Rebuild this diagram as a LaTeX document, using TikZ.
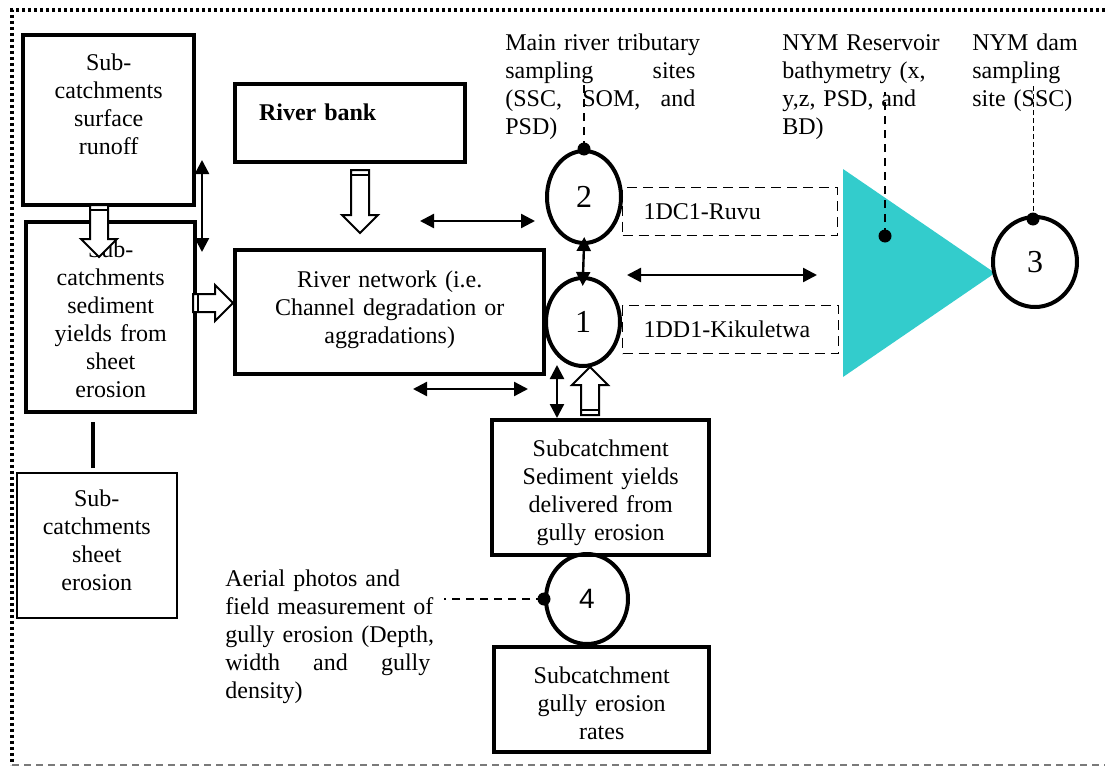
\documentclass[tikz,border=0pt]{standalone}
\usepackage{fontspec}
\setmainfont{Liberation Serif}
\newfontfamily\sitesans{Liberation Sans}
\usetikzlibrary{arrows.meta,positioning,calc,shapes.geometric}
\definecolor{resvcyan}{HTML}{33CCCC}
\definecolor{framegray}{HTML}{7A7A7A}

% block arrow: angle, x, y, length
\newcommand{\hollowarrow}[4]{%
  \begin{scope}[shift={(#2,#3)}, rotate=#1]
    \draw[hollow] (0,-9) -- ({#4-18},-9) -- ({#4-18},-18) -- (#4,0)
      -- ({#4-18},18) -- ({#4-18},9) -- (0,9) -- cycle;
    \draw[hollow] (5,-9) -- (5,9);
  \end{scope}}

\begin{document}
\begin{tikzpicture}[x=0.5pt, y=-0.5pt,
    every node/.style={font=\fontsize{12pt}{14pt}\selectfont},
    box/.style={draw, line width=2.2pt, inner sep=0pt, align=center,
                anchor=north west},
    thinbox/.style={box, line width=0.8pt},
    dbox/.style={draw, line width=0.6pt, dash pattern=on 5pt off 3pt,
                 inner ysep=0pt, inner xsep=10.5pt, minimum height=24pt,
                 align=left, anchor=north west},
    site/.style={ellipse, draw, line width=2pt, inner sep=0pt,
                 font=\fontsize{16pt}{18pt}\selectfont},
    dot/.style={circle, fill=black, inner sep=0pt, minimum size=6.5pt},
    lbl/.style={inner sep=0pt, align=left, anchor=base west},
    arr/.style={{Triangle[length=7pt,width=7pt]}-{Triangle[length=7pt,width=7pt]},
                line width=1.2pt},
    leader/.style={line width=0.7pt, dash pattern=on 4pt off 3pt},
    hollow/.style={draw, fill=white, line width=1pt}
]
  \useasboundingbox (0,0) rectangle (1105,766);

  % Outer frame
  \draw[line width=1.6pt, dash pattern=on 1.6pt off 1.4pt]
    (1105,10) -- (12,10) -- (12,765);
  \draw[framegray, line width=0.6pt, dash pattern=on 3.5pt off 2.5pt]
    (12,765) -- (1105,765);

  % Sub-catchment boxes
  \node[box, text width=85.5pt, text height=17.5pt, text depth=67.5pt]
    (runoff) at (21,33) {Sub-\\catchments\\surface\\runoff};
  \node[box, text width=84.5pt, text height=17.5pt, text depth=77.5pt]
    (sedyield) at (24,220) {Sub-\\catchments\\sediment\\yields from\\sheet\\erosion};
  \node[thinbox, text width=80pt, text height=17pt, text depth=55.5pt]
    (sheet) at (16,472) {Sub-\\catchments\\sheet\\erosion};
  \draw[line width=2pt] ([xshift=-2pt,yshift=2pt]sheet.north) coordinate (sl)
    -- ($(sl |- sedyield.south)+(0,8)$);

  % River bank and river network
  \node[box, align=left, inner xsep=12pt, text width=91pt, text height=18pt,
        text depth=21pt, line width=2pt, font=\fontsize{12pt}{14pt}\selectfont\bfseries]
    (rbank) at (233,82) {River bank};
  \node[box, text width=154.5pt, text height=18.5pt, text depth=43.5pt]
    (rnet) at (233,248) {River network (i.e.\\Channel degradation or\\aggradations)};

  % Gully erosion boxes
  \node[box, text width=108.5pt, text height=18pt, text depth=49.5pt]
    (gyield) at (490,418) {Subcatchment\\Sediment yields\\delivered from\\gully erosion};
  \node[box, text width=107.5pt, text height=18pt, text depth=34.5pt]
    (grates) at (492,645) {Subcatchment\\gully erosion\\rates};

  % Reservoir
  \fill[resvcyan] (843,169) -- (843,377) -- (995,273) -- cycle;
  \node[dot] (resdot) at (885,236) {};

  % Sampling sites
  \node[site, minimum width=37pt, minimum height=46pt] (s2) at (584,197) {2};
  \node[site, minimum width=37pt, minimum height=44pt] (s1) at (583,322) {1};
  \node[site, minimum width=42pt, minimum height=45pt] (s3) at (1035,262) {3};
  \node[site, minimum width=41pt, minimum height=45pt,
        font=\fontsize{14pt}{16pt}\selectfont\sitesans] (s4) at (587,599) {4};
  \node[dot] (d2) at (s2.north) {};
  \node[dot] (d3) at (1033,219) {};
  \node[dot] (d4) at (s4.west) {};

  % Gauging stations
  \node[dbox, minimum width=107.5pt, text width=86.5pt] (ruvu) at (622,187) {1DC1-Ruvu};
  \node[dbox, minimum width=108pt, text width=87pt] (kiku) at (622,305) {1DD1-Kikuletwa};

  % Labels
  \node[lbl, text width=95pt] (tribsites) at (505,50)
    {\mbox{Main river tributary}\\sampling\hfill sites\\(SSC,\hfill SOM,\hfill and\\PSD)};
  \node[lbl, text width=80pt] (bathy) at (782,50)
    {\mbox{NYM Reservoir}\\\mbox{bathymetry (x,}\\\mbox{y,z, PSD, and}\\BD)};
  \node[lbl, text width=55pt] (damsite) at (972,50)
    {\mbox{NYM dam}\\sampling\\\mbox{site (SSC)}};
  \node[lbl, text width=102.5pt] (aerial) at (225,586)
    {\mbox{Aerial photos and}\\\mbox{field measurement of}\\\mbox{gully erosion (Depth,}\\width\hfill and\hfill gully\\density)};

  % Leader lines
  \draw[leader] (d2.center) -- ++(0,-70);
  \draw[leader] (resdot.center) -- ++(0,-144);
  \draw[leader, line width=0.5pt, dash pattern=on 2.5pt off 1.5pt] (d3.center) -- ++(0,-136);
  \draw[leader] (d4.center) -- ++(-100,0);

  % Exchange arrows
  \coordinate (ab1) at (202,160);
  \coordinate (ab2) at (202,252);
  \coordinate (bk1) at (420,221);
  \coordinate (bk2) at (535,221);
  \coordinate (rs1) at (627,275);
  \coordinate (rs2) at (817,275);
  \coordinate (nt1) at (413,389);
  \coordinate (nt2) at (528,389);
  \coordinate (gy1) at (557,365);
  \draw[arr] (ab1) -- (ab2);
  \draw[arr] (bk1) -- (bk2);
  \draw[arr, shorten <=-4pt, shorten >=-5pt] (s2.south) -- (s1.north);
  \draw[arr] (rs1) -- (rs2);
  \draw[arr] (nt1) -- (nt2);
  \draw[arr] (gy1) -- (gy1 |- gyield.north);

  % Sediment inputs
  \hollowarrow{-90}{99}{205}{52}
  \hollowarrow{0}{193}{303}{40}
  \hollowarrow{-90}{360}{170}{63}
  \hollowarrow{90}{590}{415}{48}
\end{tikzpicture}
\end{document}
